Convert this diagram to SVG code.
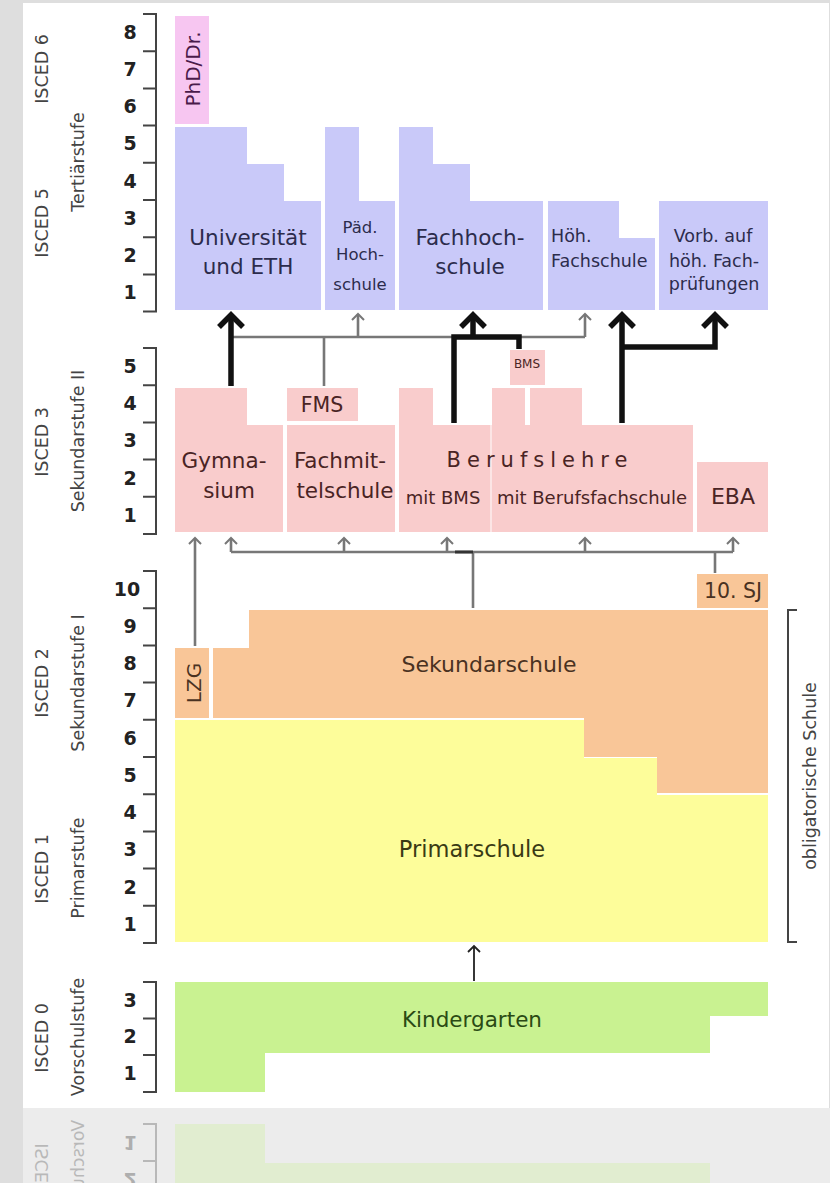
<svg xmlns="http://www.w3.org/2000/svg" xmlns:xlink="http://www.w3.org/1999/xlink" width="830" height="1183" viewBox="0 0 830 1183">
<style>
text{font-family:'DejaVu Sans','Liberation Sans',sans-serif}
.ax{stroke:#444;stroke-width:2;fill:none}
.num{font-size:19px;font-weight:bold;fill:#222;text-anchor:middle}
.lab{font-size:17.5px;fill:#444;text-anchor:middle}
.c{text-anchor:middle}
.big{font-size:21.5px}
.sm{font-size:17.5px}
.ter{fill:#c9c9f9}.ter-t{fill:#2c2c4c}
.sek2{fill:#f9cccc}.sek2-t{fill:#4a2424}
.sek1{fill:#f9c698}.sek1-t{fill:#4a3222}
.pri{fill:#fdfd9a}.pri-t{fill:#3a3a14}
.kg{fill:#c9f291}.kg-t{fill:#2a4a14}
.phd{fill:#f7c6f1}
.g{stroke:#777;stroke-width:2.6;fill:none}
.ga{stroke:#777;stroke-width:2;fill:none}
.b{stroke:#111;stroke-width:5.5;fill:none}
.ba{stroke:#111;stroke-width:5.5;fill:none;stroke-linejoin:miter}
</style>
<defs>
<clipPath id="refl"><rect x="23" y="1108" width="807" height="75"/></clipPath>
</defs>
<rect x="0" y="0" width="830" height="1183" fill="#dedede"/>
<rect x="23" y="3" width="806" height="1105" fill="#ffffff"/>
<rect x="23" y="1108" width="807" height="75" fill="#ececec"/>

<!-- axes -->
<g id="axis-tertiary">
<path class="ax" d="M143 14H156V311.6H143M143 51.2H156M143 88.4H156M143 125.6H156M143 162.8H156M143 200H156M143 237.2H156M143 274.4H156"/>
<text class="num" x="130" y="39">8</text><text class="num" x="130" y="76">7</text><text class="num" x="130" y="113">6</text><text class="num" x="130" y="150">5</text><text class="num" x="130" y="188">4</text><text class="num" x="130" y="225">3</text><text class="num" x="130" y="262">2</text><text class="num" x="130" y="299">1</text>
<text class="lab" transform="translate(48,69) rotate(-90)">ISCED 6</text>
<text class="lab" transform="translate(48,223) rotate(-90)">ISCED 5</text>
<text class="lab" transform="translate(84,162) rotate(-90)">Tertiärstufe</text>
</g>
<g id="axis-sek2">
<path class="ax" d="M143 348H156V534H143M143 385.2H156M143 422.4H156M143 459.6H156M143 496.8H156"/>
<text class="num" x="130" y="373">5</text><text class="num" x="130" y="410">4</text><text class="num" x="130" y="447">3</text><text class="num" x="130" y="485">2</text><text class="num" x="130" y="522">1</text>
<text class="lab" transform="translate(48,442) rotate(-90)">ISCED 3</text>
<text class="lab" transform="translate(84,441) rotate(-90)">Sekundarstufe II</text>
</g>
<g id="axis-sek1">
<path class="ax" d="M143 571H156V943H143M143 608.2H156M143 645.4H156M143 682.6H156M143 719.8H156M143 757H156M143 794.2H156M143 831.4H156M143 868.6H156M143 905.8H156"/>
<text class="num" x="127" y="596">10</text><text class="num" x="130" y="633">9</text><text class="num" x="130" y="670">8</text><text class="num" x="130" y="707">7</text><text class="num" x="130" y="745">6</text><text class="num" x="130" y="782">5</text><text class="num" x="130" y="819">4</text><text class="num" x="130" y="856">3</text><text class="num" x="130" y="894">2</text><text class="num" x="130" y="931">1</text>
<text class="lab" transform="translate(48,683) rotate(-90)">ISCED 2</text>
<text class="lab" transform="translate(84,683) rotate(-90)">Sekundarstufe I</text>
<text class="lab" transform="translate(48,869) rotate(-90)">ISCED 1</text>
<text class="lab" transform="translate(84,868) rotate(-90)">Primarstufe</text>
</g>

<!-- tertiary nodes -->
<g id="phd"><rect class="phd" x="175" y="16" width="34" height="108"/><text transform="translate(200,69) rotate(-90)" class="c" font-size="20" fill="#4a1a4a">PhD/Dr.</text></g>
<g id="universitaet"><path class="ter" d="M175 127H247V164H284V201H321V310H175Z"/><text class="c big ter-t" x="248" y="245">Universität</text><text class="c big ter-t" x="248" y="274">und ETH</text></g>
<g id="paed-hochschule"><path class="ter" d="M325 127H359V201H395V310H325Z"/><text class="c ter-t" x="360" y="233" font-size="16.5">Päd.</text><text class="c ter-t" x="360" y="260" font-size="16.5">Hoch-</text><text class="c ter-t" x="360" y="290" font-size="16.5">schule</text></g>
<g id="fachhochschule"><path class="ter" d="M399 127H433V164H470V201H543V310H399Z"/><text class="c big ter-t" x="470" y="245">Fachhoch-</text><text class="c big ter-t" x="470" y="274">schule</text></g>
<g id="hoeh-fachschule"><path class="ter" d="M548 201H619V238H655V310H548Z"/><text class="sm ter-t" x="551" y="242">Höh.</text><text class="sm ter-t" x="551" y="267">Fachschule</text></g>
<g id="vorb-fachpruefungen"><rect class="ter" x="659" y="201" width="109" height="109"/><text class="c sm ter-t" x="713" y="242">Vorb. auf</text><text class="c sm ter-t" x="714" y="267">höh. Fach-</text><text class="c sm ter-t" x="714" y="290">prüfungen</text></g>

<!-- sek II nodes -->
<g id="gymnasium"><path class="sek2" d="M175 388H247V425H283V532H175Z"/><text class="c big sek2-t" x="224" y="468">Gymna-</text><text class="c big sek2-t" x="229" y="498">sium</text></g>
<g id="fms"><rect class="sek2" x="287" y="388" width="71" height="33"/><text class="c sek2-t" x="322" y="412" font-size="20.5">FMS</text></g>
<g id="fachmittelschule"><rect class="sek2" x="287" y="425" width="108" height="107"/><text class="c big sek2-t" x="340" y="468">Fachmit-</text><text class="c big sek2-t" x="345" y="498">telschule</text></g>
<g id="berufslehre"><path class="sek2" d="M399 388H433V425H490V532H399Z"/><path class="sek2" d="M492 388H525V425H530V388H582V425H693V532H492Z"/><line x1="491" y1="425" x2="491" y2="532" stroke="#fff" stroke-width="1" stroke-dasharray="4 3"/><path class="sek2" d="M490 425h2v107h-2z" opacity="0.5"/><rect class="sek2" x="510" y="350" width="35" height="35"/><text class="c sek2-t" x="527" y="368" font-size="12">BMS</text><text class="c sek2-t" x="540" y="467" font-size="21" letter-spacing="6">Berufslehre</text><text class="c sek2-t" x="443" y="504" font-size="18">mit BMS</text><text class="c sek2-t" x="592" y="504" font-size="18">mit Berufsfachschule</text></g>
<g id="eba"><rect class="sek2" x="697" y="462" width="71" height="70"/><text class="c sek2-t" x="733" y="504" font-size="22">EBA</text></g>

<!-- sek I / primary -->
<g id="lzg"><rect class="sek1" x="175" y="648" width="34" height="70"/><text transform="translate(201,683) rotate(-90)" class="c sek1-t" font-size="20">LZG</text></g>
<g id="zehntes-sj"><rect class="sek1" x="697" y="574" width="71" height="34"/><text class="c sek1-t" x="733" y="598" font-size="20.5">10. SJ</text></g>
<g id="sekundarschule"><path class="sek1" d="M213 648H249V610H768V793H657V757H584V718H213Z"/><text class="c sek1-t" x="489" y="672" font-size="22">Sekundarschule</text></g>
<g id="primarschule"><path class="pri" d="M175 720H584V758H657V795H768V942H175Z"/><text class="c pri-t" x="472" y="857" font-size="22.5">Primarschule</text></g>
<g id="obligatorisch"><path class="ax" d="M797 610H788V942H797" stroke="#555"/><text class="lab" font-size="16" transform="translate(816,776) rotate(-90)">obligatorische Schule</text></g>

<!-- kindergarten -->
<g id="kindergarten-section">
<g id="axis-vorschule"><path class="ax" d="M143 982H156V1092H143M143 1018.5H156M143 1055H156"/>
<text class="num" x="130" y="1007">3</text><text class="num" x="130" y="1043">2</text><text class="num" x="130" y="1080">1</text>
<text class="lab" transform="translate(48,1038) rotate(-90)">ISCED 0</text>
<text class="lab" transform="translate(84,1037) rotate(-90)">Vorschulstufe</text></g>
<g id="kindergarten"><path class="kg" d="M175 982H768V1016H710V1053H265V1092H175Z"/><text class="c kg-t" x="472" y="1027" font-size="21.5">Kindergarten</text></g>
</g>

<!-- connectors -->
<g id="connectors">
<path class="g" d="M231 337H585M324 386V337M358 337V314M585 337V314"/>
<path class="ga" d="M352 320L358 314L364 320M579 320L585 314L591 320"/>
<path class="b" d="M231 386V318M454 423V337H519V349M473 337V318M622 423V318M622 347H715V318"/>
<path class="ba" d="M219 327L231 315L243 327M461 327L473 315L485 327M610 327L622 315L634 327M703 327L715 315L727 327"/>
<path class="g" d="M195 646V538M231 552H733M231 552V538M344 552V538M447 552V538M585 552V538M733 552V538M473 552V608M715 552V573"/>
<path d="M455 552H473" stroke="#333" stroke-width="3" fill="none"/>
<path class="ga" d="M189 544L195 538L201 544M225 544L231 538L237 544M338 544L344 538L350 544M441 544L447 538L453 544M579 544L585 538L591 544M727 544L733 538L739 544"/>
<path d="M474 981V946M468 952L474 946L480 952" stroke="#222" stroke-width="1.8" fill="none"/>
</g>

<!-- reflection -->
<g id="reflection" clip-path="url(#refl)" opacity="0.3">
<use xlink:href="#kindergarten-section" transform="translate(0,2216) scale(1,-1)"/>
</g>
</svg>
